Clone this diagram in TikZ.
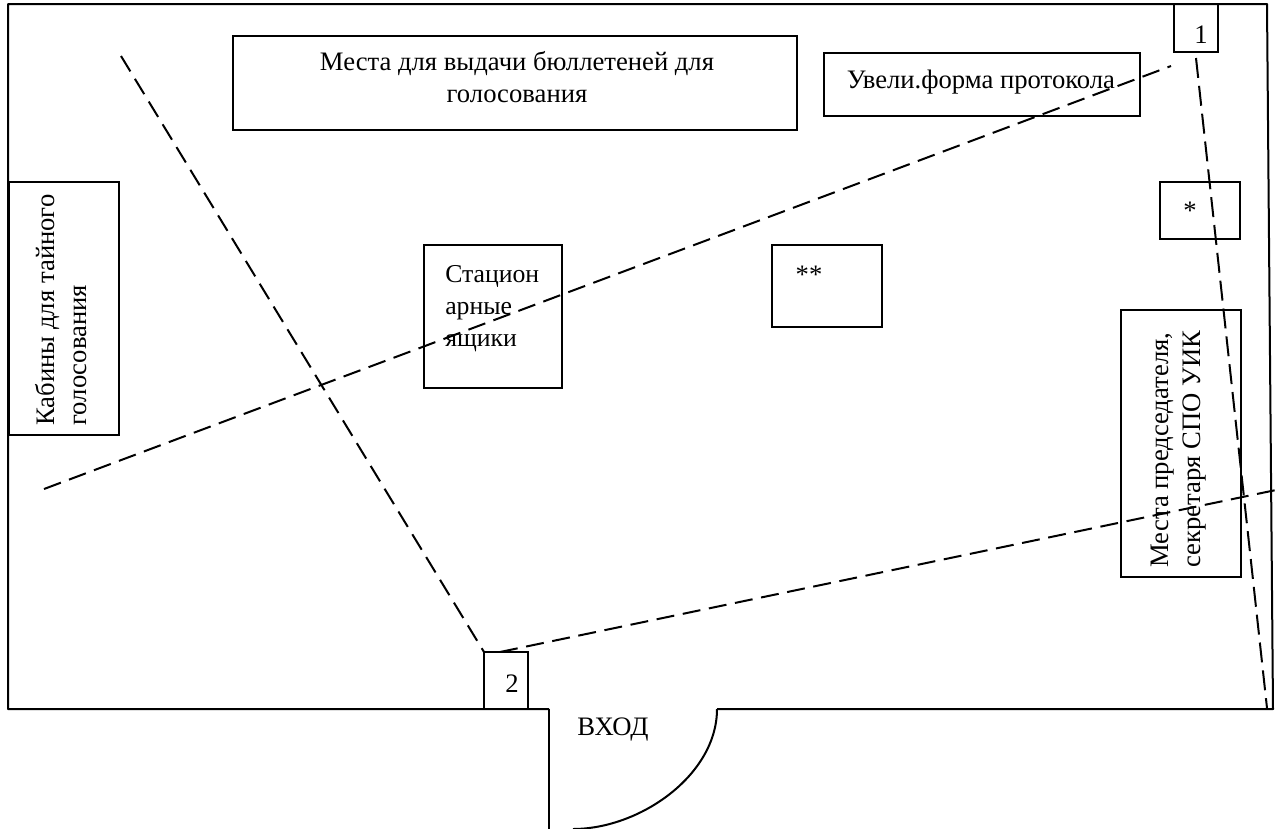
\documentclass[tikz,border=0pt]{standalone}
\usepackage{fontspec}
\setmainfont{Liberation Serif}
\tikzset{
  wall/.style={draw=black,line width=1.5pt,line join=round},
  boxn/.style={draw=black,line width=1.5pt,fill=none},
  cut/.style={draw=black,line width=1.5pt,dash pattern=on 13.5pt off 6.5pt},
  cutlong/.style={draw=black,line width=1.5pt,dash pattern=on 15pt off 6pt},
  lbl/.style={font=\fontsize{20pt}{24pt}\selectfont,inner sep=0pt,align=left},
  lblsmall/.style={font=\fontsize{19.3pt}{24pt}\selectfont,inner sep=0pt,align=left}
}
\begin{document}
\begin{tikzpicture}[x=0.75pt,y=-0.75pt]
\useasboundingbox (0,0) rectangle (1283,829);
\coordinate (tr) at (1267,4); \coordinate (br) at (1273,709);
\coordinate (bl) at (8,709);
\coordinate (d1) at (549,709); \coordinate (d2) at (549,829);
\coordinate (d3) at (717,709); \coordinate (d4) at (573,829);
\draw[wall] (d1) -- (bl) -- (8,4) -- (tr) -- (br) -- (d3);
\draw[wall] (d1) -- (d2);
\draw[wall] (d3) .. controls (717,775) and (640,829) .. (d4);
\node[boxn,minimum width=564*0.75pt,minimum height=94*0.75pt] (a) at (515,83) {};
\node[lbl,align=center] at (517,77.5) {Места для выдачи бюллетеней для\\голосования};
\node[boxn,minimum width=316*0.75pt,minimum height=63*0.75pt] (b) at (982,84) {};
\node[lbl] at (981,82) {Увели.форма протокола};
\node[boxn,minimum width=44*0.75pt,minimum height=48*0.75pt] (n1) at (1196,28) {};
\node[lbl] at (1201,35) {1};
\node[boxn,minimum width=80*0.75pt,minimum height=57*0.75pt] (star) at (1200,210) {};
\node[lbl] at (1190,211) {*};
\node[boxn,minimum width=110*0.75pt,minimum height=82*0.75pt] (ss) at (827,286) {};
\node[lbl] at (809,275) {**};
\node[boxn,minimum width=110*0.75pt,minimum height=253*0.75pt] (kab) at (63.5,308) {};
\node[lbl,align=left,rotate=90] at (61,310) {Кабины для тайного\\голосования};
\node[boxn,minimum width=138*0.75pt,minimum height=143*0.75pt] (urn) at (493,316) {};
\node[lblsmall,anchor=north west] at (445,265) {Стацион\\арные\\ящики};
\node[boxn,minimum width=120*0.75pt,minimum height=267*0.75pt] (pred) at (1180.5,443) {};
\node[lbl,rotate=90,align=left] at (1179,449) {Места председателя,\\секретаря СПО УИК};
\node[boxn,minimum width=44*0.75pt,minimum height=57*0.75pt] (n2) at (506,680) {};
\node[lbl] at (512,684) {2};
\node[lbl] at (613,730) {ВХОД};
\coordinate (c1) at (121,56); \coordinate (c2) at (484,652);
\coordinate (c3) at (44,489); \coordinate (c4) at (1171,66);
\coordinate (c5) at (1196,58); \coordinate (c6) at (1267,708);
\coordinate (c7) at (500,652); \coordinate (c8) at (1276,490);
\draw[cut] (c1) -- (c2);
\draw[cut] (c3) -- (c4);
\draw[cutlong] (c5) -- (c6);
\draw[cut] (c7) -- (c8);
\end{tikzpicture}
\end{document}
